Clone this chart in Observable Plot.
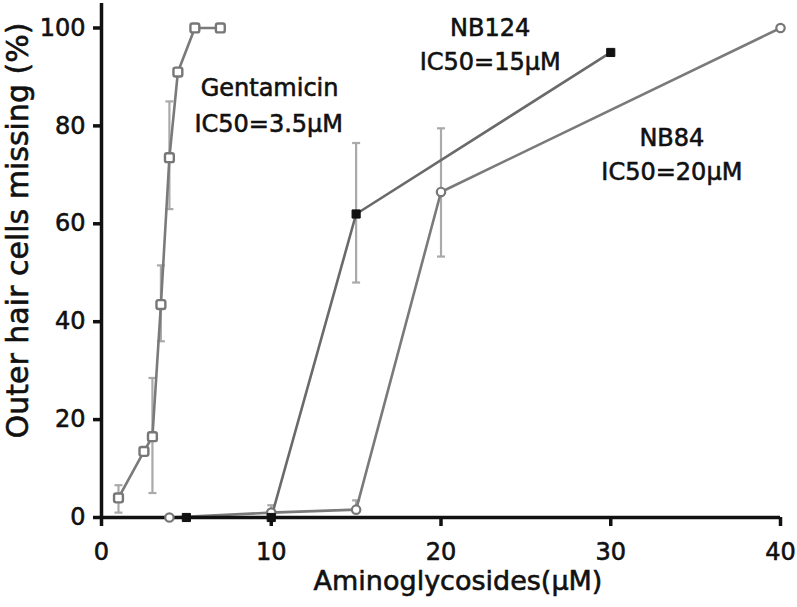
<!DOCTYPE html>
<html>
<head>
<meta charset="utf-8">
<script src="https://cdn.jsdelivr.net/npm/d3@7"></script>
<script src="https://cdn.jsdelivr.net/npm/@observablehq/plot@0.6"></script>
<style>
  html, body { margin: 0; padding: 0; background: #fff; }
  svg { display: block; }
  svg text { stroke: #111; stroke-width: 0.6px; paint-order: normal; }
</style>
</head>
<body>
<div id="chart"></div>
<script>
// Gentamicin
const gentX  = [1, 2.5, 3, 3.5, 4, 4.5, 5.5, 7];
const gentY  = [4, 13.5, 16.5, 43.5, 73.5, 91, 100, 100];
const gentLo = [1, null, 5, 36, 63, null, null, null];
const gentHi = [6.6, null, 28.5, 51.5, 85, null, null, null];
// NB124
const nb124X  = [5, 10, 15, 30];
const nb124Y  = [0, 0, 62, 95];
const nb124Lo = [null, null, 48, null];
const nb124Hi = [null, null, 76.5, null];
// NB84
const nb84X  = [4, 10, 15, 20, 40];
const nb84Y  = [0, 1, 1.6, 66.5, 100];
const nb84Lo = [null, null, null, 53.3, null];
const nb84Hi = [null, 2.5, 3.5, 79.5, null];

const xTicks = [0, 10, 20, 30, 40];
const yTicks = [0, 20, 40, 60, 80, 100];

const labels = [
  {x: 9.9, y: 87.6, text: "Gentamicin"},
  {x: 9.85, y: 80.3, text: "IC50=3.5μM"},
  {x: 22.9, y: 99.9, text: "NB124"},
  {x: 22.9, y: 92.9, text: "IC50=15μM"},
  {x: 33.6, y: 77.4, text: "NB84"},
  {x: 33.6, y: 70.6, text: "IC50=20μM"}
];

function toRows(name, xs, ys, los, his) {
  return xs.map((x, i) => ({series: name, x, y: ys[i], lo: los[i], hi: his[i]}));
}
const gent = toRows("Gentamicin", gentX, gentY, gentLo, gentHi);
const nb124 = toRows("NB124", nb124X, nb124Y, nb124Lo, nb124Hi);
const nb84 = toRows("NB84", nb84X, nb84Y, nb84Lo, nb84Hi);
const all = [...gent, ...nb124, ...nb84];
const errs = all.filter(d => d.lo != null || d.hi != null)
  .map(d => ({x: d.x, lo: d.lo ?? d.y, hi: d.hi ?? d.y}));
const capList = all.flatMap(d => {
  const out = [];
  if (d.lo != null) out.push({x: d.x, y: d.lo});
  if (d.hi != null) out.push({x: d.x, y: d.hi});
  return out;
});

const capSymbol = {
  draw(context, size) {
    const w = Math.sqrt(size) / 2;
    context.moveTo(-w, 0);
    context.lineTo(w, 0);
  }
};
const roundSquare = {
  draw(context, size) {
    const w = Math.sqrt(size) / 2;
    const r = w * 0.45;
    context.moveTo(-w + r, -w);
    context.lineTo(w - r, -w);
    context.quadraticCurveTo(w, -w, w, -w + r);
    context.lineTo(w, w - r);
    context.quadraticCurveTo(w, w, w - r, w);
    context.lineTo(-w + r, w);
    context.quadraticCurveTo(-w, w, -w, w - r);
    context.lineTo(-w, -w + r);
    context.quadraticCurveTo(-w, -w, -w + r, -w);
    context.closePath();
  }
};

const font = "DejaVu Sans, sans-serif";

const chart = Plot.plot({
  width: 797,
  height: 607,
  marginLeft: 101,
  marginRight: 17,
  marginTop: 3,
  marginBottom: 90,
  style: {fontFamily: font, background: "#fff", color: "#111"},
  x: {domain: [0, 40], ticks: xTicks},
  y: {domain: [0, 105], ticks: yTicks},
  marks: [
    // error bars
    Plot.ruleX(errs, {x: "x", y1: "lo", y2: "hi", stroke: "#aaa", strokeWidth: 2.2}),
    Plot.dot(capList, {x: "x", y: "y", symbol: capSymbol, r: 4.5, stroke: "#aaa", strokeWidth: 2.2, fill: "none"}),
    // lines
    Plot.line(gent, {x: "x", y: "y", stroke: "#7a7a7a", strokeWidth: 2.6}),
    Plot.line(nb84, {x: "x", y: "y", stroke: "#7a7a7a", strokeWidth: 2.6}),
    Plot.line(nb124, {x: "x", y: "y", stroke: "#6a6a6a", strokeWidth: 2.6}),
    // axes lines
    Plot.ruleY([0], {stroke: "#111", strokeWidth: 3.5}),
    Plot.ruleX([0], {y1: 0, y2: 105, stroke: "#111", strokeWidth: 3.5}),
    Plot.axisX({ticks: xTicks, tickSize: 9, tickPadding: 16, stroke: "#111", strokeWidth: 3.5,
      fontSize: 24, fill: "#111", label: null}),
    Plot.axisY({ticks: yTicks, tickSize: 8, tickPadding: 8, stroke: "#111", strokeWidth: 3.5,
      fontSize: 24, fill: "#111", label: null}),
    // markers
    Plot.dot(gent, {x: "x", y: "y", symbol: roundSquare, r: 5, fill: "#fff", stroke: "#777", strokeWidth: 2.4}),
    Plot.dot(nb84, {x: "x", y: "y", symbol: "circle", r: 4.2, fill: "#fff", stroke: "#777", strokeWidth: 2.2}),
    Plot.dot(nb124, {x: "x", y: "y", symbol: "square", r: 4.6, fill: "#111", stroke: "#111", strokeWidth: 1}),
    // annotations
    Plot.text(labels, {x: "x", y: "y", text: "text", fontSize: 24, fill: "#111", textAnchor: "middle"}),
    // axis titles
    Plot.text(["Aminoglycosides(μM)"], {frameAnchor: "bottom", dx: 17, dy: 72, fontSize: 27, fill: "#111"}),
    Plot.text(["Outer hair cells missing (%)"], {frameAnchor: "left", dx: -83, dy: -30, rotate: -90, textAnchor: "middle", fontSize: 30, fill: "#111"})
  ]
});
document.getElementById("chart").appendChild(chart);
</script>
</body>
</html>
